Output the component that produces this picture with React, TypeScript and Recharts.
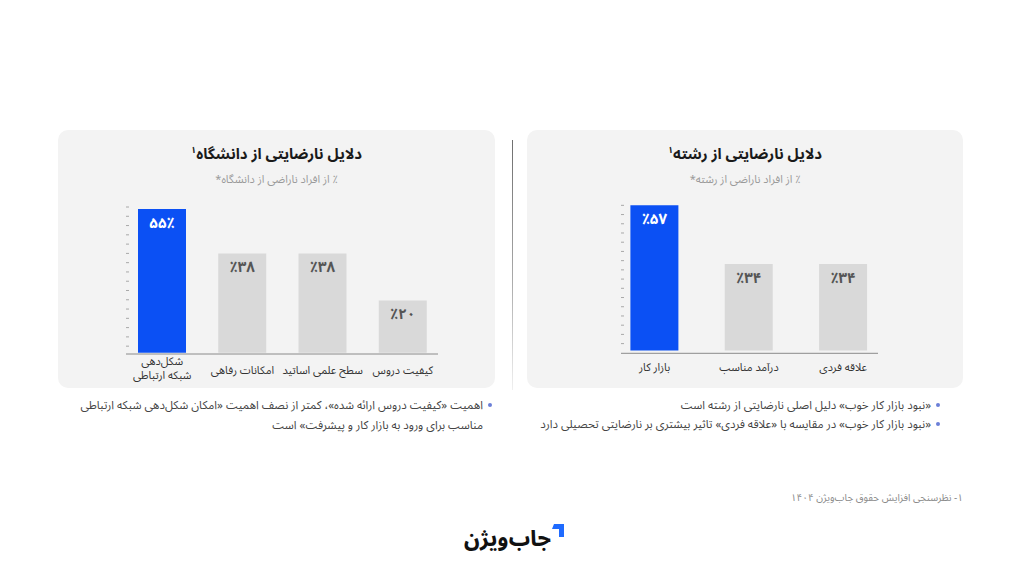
import React from "react"
import { BarChart, Bar, XAxis, YAxis, Cell, LabelList } from "recharts"

const FONT = "'Noto Sans Arabic', Vazirmatn, 'DejaVu Sans', sans-serif"
const BLUE = "#0b50f4"
const GRAY_BAR = "#d9d9d9"
const PANEL = "#f3f3f3"

// university chart
const uniCategories = ["شکل‌دهی\nشبکه ارتباطی", "امکانات رفاهی", "سطح علمی اساتید", "کیفیت دروس"]
const uniValues = [55, 38, 38, 20]
const uniValueLabels = ["۵۵٪", "٪۳۸", "٪۳۸", "٪۲۰"]
const uniTicks = [2.5, 6.05, 9.6, 13.15, 16.7, 20.25, 23.8, 27.35, 30.9, 34.45, 38, 41.55, 45.1, 48.65, 52.2, 55.75]

// field of study chart
const fieldCategories = ["بازار کار", "درآمد مناسب", "علاقه فردی"]
const fieldValues = [57, 34, 34]
const fieldValueLabels = ["٪۵۷", "٪۳۴", "٪۳۴"]
const fieldTicks = [2.7, 6.32, 9.94, 13.56, 17.18, 20.8, 24.42, 28.04, 31.66, 35.28, 38.9, 42.52, 46.14, 49.76, 53.38, 57]

const HIGHLIGHT = 0

const uniData = uniCategories.map((name, i) => ({ name, value: uniValues[i], label: uniValueLabels[i] }))
const fieldData = fieldCategories.map((name, i) => ({ name, value: fieldValues[i], label: fieldValueLabels[i] }))

function makeTick(firstDy: number) {
  return (props: any) => {
    const { x, y, payload } = props
    const lines = String(payload.value).split("\n")
    const dy0 = lines.length > 1 ? 11 : firstDy
    return (
      <text x={x} y={y} textAnchor="middle" fill="#333" fontSize={11} fontFamily={FONT} direction="rtl">
        {lines.map((l, i) => (
          <tspan key={i} x={x} dy={i === 0 ? dy0 : 14}>
            {l}
          </tspan>
        ))}
      </text>
    )
  }
}

const EmptyTick = () => <g />

function ValueLabel(props: any) {
  const { x, y, width, index, value } = props
  return (
    <text
      x={x + width / 2}
      y={y + 14}
      dominantBaseline="central"
      textAnchor="middle"
      fill={index === HIGHLIGHT ? "#ffffff" : "#555"}
      fontSize={15}
      fontWeight={700}
      fontFamily={FONT}
      style={{ unicodeBidi: "bidi-override", direction: "ltr" }}
    >
      {value}
    </text>
  )
}

function Panel({ left, width, title, subtitle }: { left: number; width: number; title: string; subtitle: string }) {
  return (
    <div style={{ position: "absolute", left, top: 130, width, height: 258, background: PANEL, borderRadius: 10 }}>
      <div
        dir="rtl"
        style={{
          position: "absolute",
          top: 14,
          width: "100%",
          textAlign: "center",
          fontSize: 15,
          lineHeight: "20px",
          fontWeight: 700,
          color: "#1a1a1a",
        }}
      >
        {title}
        <sup style={{ fontSize: 9, lineHeight: 0 }}>۱</sup>
      </div>
      <div
        dir="rtl"
        style={{ position: "absolute", top: 43, width: "100%", textAlign: "center", fontSize: 11, lineHeight: "14px", color: "#9a9a9a" }}
      >
        {subtitle}
      </div>
    </div>
  )
}

function Bullet({ right, top, dotLeft, text }: { right: number; top: number; dotLeft: number; text: string }) {
  return (
    <>
      <div style={{ position: "absolute", left: dotLeft, top: top + 7, width: 4, height: 4, borderRadius: 2, background: "#6b7fd7" }} />
      <div dir="rtl" style={{ position: "absolute", right, top, whiteSpace: "nowrap", fontSize: 11.5, lineHeight: "18px", color: "#444" }}>
        {text}
      </div>
    </>
  )
}

export default function App() {
  return (
    <div style={{ position: "absolute", left: 0, top: 0, width: 1024, height: 576, background: "#fff", fontFamily: FONT, overflow: "hidden" }}>
      <Panel left={58} width={437} title="دلایل نارضایتی از دانشگاه" subtitle="٪ از افراد ناراضی از دانشگاه*" />
      <Panel left={527} width={436} title="دلایل نارضایتی از رشته" subtitle="٪ از افراد ناراضی از رشته*" />

      <div style={{ position: "absolute", left: 58, top: 130 }}>
        <BarChart width={437} height={258} data={uniData} margin={{ top: 65.9, right: 57, bottom: 0, left: 68 }}>
          <XAxis
            dataKey="name"
            height={34}
            padding={{ left: -4, right: -5 }}
            axisLine={{ stroke: "#8a8a8a" }}
            tickLine={false}
            tickSize={0}
            tickMargin={0}
            interval={0}
            tick={makeTick(20)}
          />
          <YAxis
            domain={[-0.5, 60]}
            ticks={uniTicks}
            interval={0}
            width={1}
            mirror
            axisLine={false}
            tick={EmptyTick}
            tickSize={3}
            tickLine={{ stroke: "#a8a8a8" }}
          />
          <Bar dataKey="value" barSize={48} isAnimationActive={false}>
            {uniData.map((_, i) => (
              <Cell key={i} fill={i === HIGHLIGHT ? BLUE : GRAY_BAR} />
            ))}
            <LabelList dataKey="label" content={ValueLabel} />
          </Bar>
        </BarChart>
      </div>

      <div style={{ position: "absolute", left: 527, top: 130 }}>
        <BarChart width={436} height={258} data={fieldData} margin={{ top: 67.7, right: 85, bottom: 0, left: 94 }}>
          <XAxis
            dataKey="name"
            height={34.7}
            padding={{ left: -13.6, right: -12.4 }}
            axisLine={{ stroke: "#8a8a8a" }}
            tickLine={false}
            tickSize={0}
            tickMargin={0}
            interval={0}
            tick={makeTick(18)}
          />
          <YAxis
            domain={[-1.1, 60]}
            ticks={fieldTicks}
            interval={0}
            width={1}
            mirror
            axisLine={false}
            tick={EmptyTick}
            tickSize={3}
            tickLine={{ stroke: "#a8a8a8" }}
          />
          <Bar dataKey="value" barSize={48} isAnimationActive={false}>
            {fieldData.map((_, i) => (
              <Cell key={i} fill={i === HIGHLIGHT ? BLUE : GRAY_BAR} />
            ))}
            <LabelList dataKey="label" content={ValueLabel} />
          </Bar>
        </BarChart>
      </div>

      <div
        style={{
          position: "absolute",
          left: 512,
          top: 140,
          width: 1,
          height: 250,
          background: "linear-gradient(#6f6f6f, #a9a9a9 55%, #f0f0f0)",
        }}
      />

      <div style={{ position: "absolute", left: 488, top: 403, width: 4, height: 4, borderRadius: 2, background: "#6b7fd7" }} />
      <div dir="rtl" style={{ position: "absolute", right: 541, top: 395, whiteSpace: "nowrap", fontSize: 11.5, lineHeight: "20px", color: "#444" }}>
        اهمیت «کیفیت دروس ارائه شده»، کمتر از نصف اهمیت «امکان شکل‌دهی شبکه ارتباطی
        <br />
        مناسب برای ورود به بازار کار و پیشرفت» است
      </div>

      <Bullet right={93} top={396} dotLeft={936} text="«نبود بازار کار خوب» دلیل اصلی نارضایتی از رشته است" />
      <Bullet right={93} top={414.5} dotLeft={936} text="«نبود بازار کار خوب» در مقایسه با «علاقه فردی» تاثیر بیشتری بر نارضایتی تحصیلی دارد" />

      <div dir="rtl" style={{ position: "absolute", right: 61, top: 487, whiteSpace: "nowrap", fontSize: 10, color: "#8a8a8a" }}>
        ۱- نظرسنجی افزایش حقوق جاب‌ویژن ۱۴۰۴
      </div>

      <div dir="rtl" style={{ position: "absolute", right: 473, top: 517, whiteSpace: "nowrap", fontSize: 21, fontWeight: 800, color: "#111" }}>
        جاب‌ویژن
      </div>
      <svg style={{ position: "absolute", left: 552, top: 524 }} width={12} height={14}>
        <path d="M2 0 L12 0 L12 13 L7 13 L7 5 L0 5 Z" fill="#1f6bff" />
      </svg>
    </div>
  )
}
